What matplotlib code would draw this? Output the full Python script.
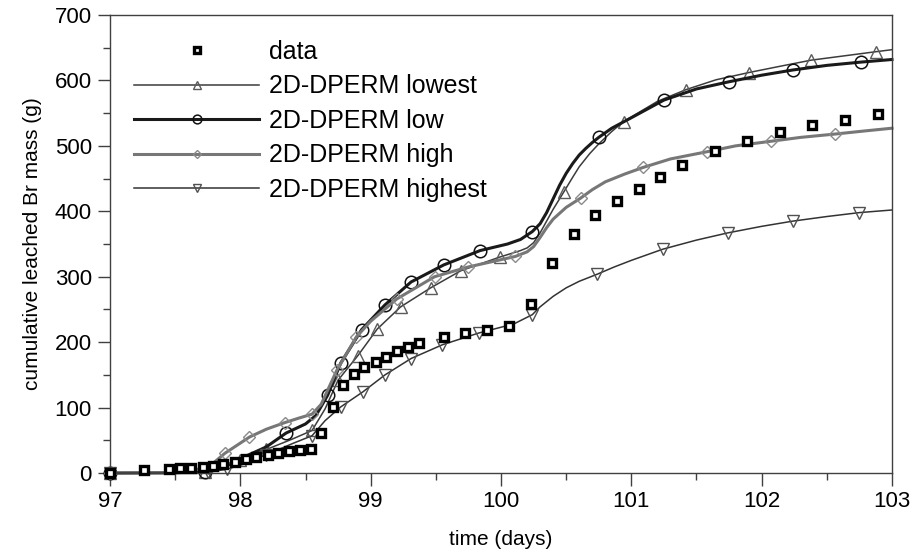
import matplotlib
matplotlib.use("Agg")
import matplotlib.pyplot as plt
from matplotlib.ticker import MultipleLocator

plt.rcParams['font.family'] = ['Liberation Sans', 'DejaVu Sans']

# measured bromide mass (g) vs time (days)
data_t = [97.0, 97.26, 97.45, 97.54, 97.62, 97.71, 97.79, 97.87, 97.96, 98.04, 98.12,
          98.21, 98.29, 98.37, 98.46, 98.54, 98.62, 98.71, 98.79, 98.87, 98.95, 99.04,
          99.12, 99.2, 99.29, 99.37, 99.56, 99.72, 99.89, 100.06, 100.23, 100.39, 100.56,
          100.72, 100.89, 101.06, 101.22, 101.39, 101.64, 101.89, 102.14, 102.39, 102.64, 102.89]
data_y = [0, 5, 6, 7, 8, 9, 11, 14, 17, 21, 25,
          28, 31, 33, 35, 37, 61, 101, 134, 151, 162, 169,
          178, 187, 192, 199, 208, 214, 218, 224, 258, 321, 366,
          395, 416, 434, 452, 470, 492, 508, 521, 532, 540, 548]

# model runs
lowest_t = [97.0, 97.5, 97.73, 97.9, 98.0, 98.2, 98.4, 98.55, 98.65, 98.75, 98.9, 99.05,
            99.23, 99.46, 99.69, 99.99, 100.15, 100.2, 100.25, 100.3, 100.35, 100.4, 100.48,
            100.55, 100.6, 100.68, 100.75, 100.85, 100.94, 101.2, 101.42, 101.65, 101.9,
            102.15, 102.38, 102.65, 102.88, 103.0]
lowest_y = [0, 0, 2, 10, 20, 36, 52, 65, 98, 142, 179, 220,
            254, 283, 309, 330, 340, 344, 352, 367, 385, 403, 429,
            452, 468, 488, 503, 522, 537, 568, 586, 601, 612,
            622, 631, 638, 644, 647]
lowest_mk = [97.0, 97.73, 98.0, 98.2, 98.55, 98.75, 98.9, 99.05, 99.23, 99.46, 99.69, 99.99,
             100.48, 100.94, 101.42, 101.9, 102.38, 102.88]

low_t = [97.0, 97.5, 97.73, 97.9, 98.0, 98.2, 98.35, 98.5, 98.58, 98.67, 98.77, 98.93,
         99.11, 99.31, 99.56, 99.84, 100.05, 100.15, 100.24, 100.3, 100.35, 100.4, 100.45,
         100.5, 100.55, 100.6, 100.65, 100.7, 100.75, 100.85, 101.0, 101.25, 101.5, 101.75,
         102.0, 102.24, 102.5, 102.76, 103.0]
low_y = [0, 0.5, 2, 12, 22, 40, 61, 75, 88, 119, 168, 219,
         257, 292, 318, 340, 350, 357, 369, 381, 398, 419, 440,
         458, 473, 486, 496, 505, 513, 527, 543, 570, 587, 598,
         608, 616, 623, 628, 632]
low_mk = [97.0, 97.73, 98.35, 98.67, 98.77, 98.93, 99.11, 99.31, 99.56, 99.84, 100.24,
          100.75, 101.25, 101.75, 102.24, 102.76]

high_t = [97.0, 97.5, 97.75, 97.88, 98.07, 98.2, 98.34, 98.45, 98.55, 98.62, 98.74, 98.89,
          99.0, 99.2, 99.49, 99.75, 100.11, 100.2, 100.25, 100.3, 100.35, 100.4, 100.5,
          100.61, 100.7, 100.8, 100.95, 101.09, 101.3, 101.58, 101.8, 102.07, 102.3, 102.56,
          102.8, 103.0]
high_y = [0, 0.5, 8, 30, 55, 67, 77, 84, 90, 105, 157, 208,
          232, 266, 300, 315, 331, 338, 346, 360, 375, 388, 406,
          420, 433, 445, 457, 467, 480, 491, 500, 507, 513, 518,
          523, 527]
high_mk = [97.0, 97.75, 97.88, 98.07, 98.34, 98.55, 98.74, 98.89, 99.2, 99.49, 99.75, 100.11,
           100.61, 101.09, 101.58, 102.07, 102.56]

highest_t = [97.0, 97.5, 97.75, 97.9, 98.0, 98.2, 98.4, 98.55, 98.65, 98.77, 98.94, 99.11,
             99.31, 99.55, 99.83, 100.1, 100.24, 100.3, 100.4, 100.5, 100.6, 100.74, 100.87,
             101.0, 101.24, 101.5, 101.74, 102.0, 102.24, 102.5, 102.75, 103.0]
highest_y = [0, 0, 1, 6, 12, 28, 45, 57, 80, 101, 124, 150,
             175, 196, 214, 228, 242, 254, 270, 283, 293, 304, 315,
             325, 342, 356, 367, 377, 385, 392, 398, 402]
highest_mk = [97.0, 97.75, 97.9, 98.2, 98.55, 98.77, 98.94, 99.11, 99.31, 99.55, 99.83,
              100.24, 100.74, 101.24, 101.74, 102.24, 102.75]


def idx(t, mk):
    return [t.index(v) for v in mk]


fig = plt.figure(figsize=(9.14, 5.58), dpi=100)
ax = fig.add_axes([0.1204, 0.1523, 0.8555, 0.8208])

ax.plot(lowest_t, lowest_y, color='#3c3c3c', lw=1.1, marker='^', ms=8.5, mfc='none',
        mec='#5a5a5a', mew=1.0, markevery=idx(lowest_t, lowest_mk), label='2D-DPERM lowest',
        clip_on=False)
ax.plot(low_t, low_y, color='#1a1a1a', lw=2.2, marker='o', ms=9, mfc='none',
        mec='#111111', mew=1.1, markevery=idx(low_t, low_mk), label='2D-DPERM low',
        clip_on=False)
ax.plot(high_t, high_y, color='#777777', lw=2.2, marker='D', ms=6.5, mfc='none',
        mec='#8a8a8a', mew=1.0, markevery=idx(high_t, high_mk), label='2D-DPERM high',
        clip_on=False)
ax.plot(highest_t, highest_y, color='#333333', lw=1.1, marker='v', ms=8.5, mfc='none',
        mec='#505050', mew=1.0, markevery=idx(highest_t, highest_mk), label='2D-DPERM highest',
        clip_on=False)
ax.plot(data_t, data_y, ls='none', marker='s', ms=5.2, mfc='white', mec='black',
        mew=2.4, label='data', zorder=5, clip_on=False)

ax.set_xlim(97, 103)
ax.set_ylim(0, 700)
ax.xaxis.set_major_locator(MultipleLocator(1))
ax.xaxis.set_minor_locator(MultipleLocator(0.5))
ax.yaxis.set_major_locator(MultipleLocator(100))
ax.yaxis.set_minor_locator(MultipleLocator(50))
ax.tick_params(which='major', direction='out', length=9, width=1, color='#404040',
               labelsize=16, pad=4)
ax.tick_params(which='minor', direction='out', length=5, width=1, color='#404040')
for s in ax.spines.values():
    s.set_color('#404040')
    s.set_linewidth(1)

ax.set_xlabel('time (days)', fontsize=15, labelpad=13)
ax.set_ylabel('cumulative leached Br mass (g)', fontsize=15, labelpad=9)

h, l = ax.get_legend_handles_labels()
order = [4, 0, 1, 2, 3]
ax.legend([h[i] for i in order], [l[i] for i in order], loc='upper left',
          bbox_to_anchor=(0.002, 0.995), frameon=False, fontsize=18, handlelength=5.0,
          handletextpad=0.4, labelspacing=0.42, markerscale=0.7)

fig.savefig('out.png', dpi=100)
